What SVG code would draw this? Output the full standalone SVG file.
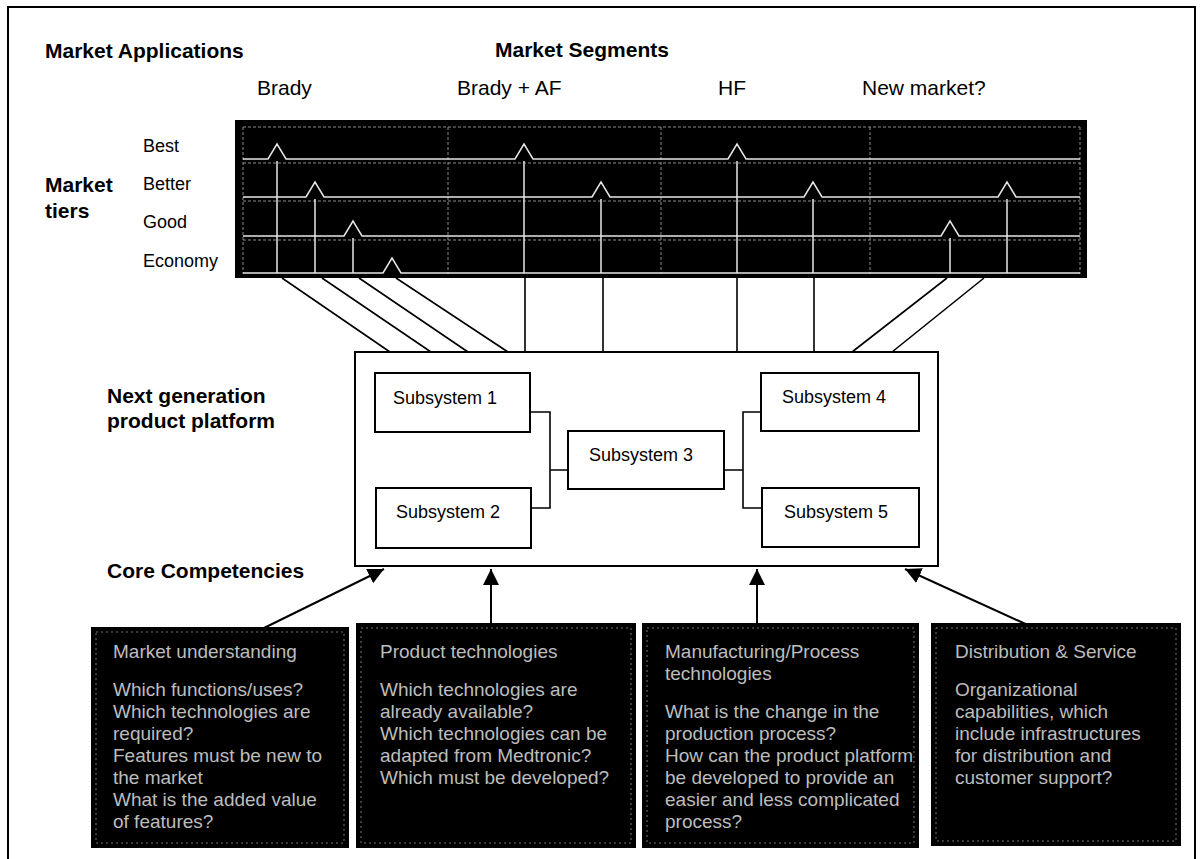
<svg xmlns="http://www.w3.org/2000/svg" width="1202" height="859" viewBox="0 0 1202 859">
  <style>
    text { font-family: "Liberation Sans", Arial, sans-serif; fill: #000; }
    .head { font-size: 21px; font-weight: bold; }
    .seg { font-size: 21px; }
    .tier { font-size: 18px; }
    .sub { font-size: 18px; }
    .frame { fill: none; stroke: #000; stroke-width: 2; }
    .box { fill: #fff; stroke: #000; stroke-width: 2; }
    .comp { fill: #000; stroke: #000; stroke-width: 2; }
    .compin { fill: none; stroke: #777; stroke-width: 1; stroke-dasharray: 2 3; }
    .comp-t { font-size: 19px; fill: #bdbdbd; }
    .sig { fill: none; stroke: #e6e6e6; stroke-width: 1.5; }
    .grid { fill: none; stroke: #8c8c8c; stroke-width: 1; stroke-dasharray: 3 2; }
    .link { fill: none; stroke: #000; stroke-width: 1.6; }
    .arrow { fill: none; stroke: #000; stroke-width: 2; marker-end: url(#head); }
  </style>
  <defs>
    <marker id="head" viewBox="0 0 10 10" refX="10" refY="5" markerWidth="8" markerHeight="8" markerUnits="strokeWidth" orient="auto">
      <path d="M0 0 L10 5 L0 10 Z" fill="#000"/>
    </marker>
  </defs>

  <rect width="1202" height="859" fill="#fff"/>
  <!-- page frame, open at the bottom -->
  <rect class="frame" x="8" y="7" width="1187" height="880"/>

  <!-- headings -->
  <g id="labels">
    <text class="head" x="45" y="58">Market Applications</text>
    <text class="head" x="495" y="57">Market Segments</text>
    <text class="seg" x="257" y="95">Brady</text>
    <text class="seg" x="457" y="95">Brady + AF</text>
    <text class="seg" x="718" y="95">HF</text>
    <text class="seg" x="862" y="95">New market?</text>
    <text class="head" x="45" y="192">Market</text>
    <text class="head" x="45" y="218">tiers</text>
    <text class="tier" x="143" y="152">Best</text>
    <text class="tier" x="143" y="190">Better</text>
    <text class="tier" x="143" y="228">Good</text>
    <text class="tier" x="143" y="267">Economy</text>
    <text class="head" x="107" y="403">Next generation</text>
    <text class="head" x="107" y="428">product platform</text>
    <text class="head" x="107" y="578">Core Competencies</text>
  </g>

  <!-- market tier / segment map -->
  <g id="segment-map">
    <rect x="235" y="120" width="852" height="158" fill="#000"/>
    <path class="grid" d="M243 127 H1080 M243 163 H1080 M243 201 H1080 M243 240 H1080"/>
    <path class="grid" d="M243 127 V274 M448 127 V274 M661 127 V274 M870 127 V274 M1080 127 V274"/>
    <!-- tier signal lines with peaks -->
    <path class="sig" d="M243 159 H268 L277 144 L286 159 H515 L524 144 L533 159 H728 L737 144 L746 159 H1080"/>
    <path class="sig" d="M243 197 H306 L315 182 L324 197 H592 L601 182 L610 197 H804 L813 182 L822 197 H998 L1007 182 L1016 197 H1080"/>
    <path class="sig" d="M243 236 H344 L353 221 L362 236 H941 L950 221 L959 236 H1080"/>
    <path class="sig" d="M243 273 H383 L392 258 L401 273 H1080"/>
    <!-- drops under each peak -->
    <path class="sig" d="M277 161 V273 M524 161 V273 M737 161 V273 M315 199 V273 M601 199 V273 M813 199 V273 M1007 199 V273 M353 238 V273 M950 238 V273"/>
  </g>

  <!-- product platform -->
  <g id="platform">
    <rect class="box" x="355" y="352" width="583" height="214"/>
  </g>

  <!-- connectors -->
  <g id="connectors">
    <path class="link" d="M282 278 L390 352 M322 278 L431 352 M359 278 L468 352 M396 278 L508 352"/>
    <path class="link" d="M525 278 V352 M603 278 V352 M737 278 V352 M814 278 V352"/>
    <path class="link" d="M947 278 L852 352 M984 278 L892 352"/>
    <path class="link" d="M530 412 H550 V508 H531 M550 470 H568"/>
    <path class="link" d="M724 470 H743 M761 412 H743 V508 H762"/>
    <path class="arrow" d="M264 628 L384 569"/>
    <path class="arrow" d="M491 624 V569"/>
    <path class="arrow" d="M757 624 V569"/>
    <path class="arrow" d="M1030 626 L905 569"/>
  </g>

  <g id="subsystem-1">
    <rect class="box" x="375" y="373" width="155" height="59"/>
    <text class="sub" x="393" y="404">Subsystem 1</text>
  </g>
  <g id="subsystem-2">
    <rect class="box" x="376" y="488" width="155" height="60"/>
    <text class="sub" x="396" y="518">Subsystem 2</text>
  </g>
  <g id="subsystem-3">
    <rect class="box" x="568" y="431" width="156" height="58"/>
    <text class="sub" x="589" y="461">Subsystem 3</text>
  </g>
  <g id="subsystem-4">
    <rect class="box" x="761" y="373" width="158" height="58"/>
    <text class="sub" x="782" y="403">Subsystem 4</text>
  </g>
  <g id="subsystem-5">
    <rect class="box" x="762" y="488" width="157" height="59"/>
    <text class="sub" x="784" y="518">Subsystem 5</text>
  </g>

  <!-- core competencies -->
  <g id="market-understanding">
    <rect class="comp" x="92" y="628" width="256" height="219"/>
    <rect class="compin" x="96" y="632" width="248" height="211"/>
    <text class="comp-t" x="113" y="658">Market understanding</text>
    <text class="comp-t" x="113" y="696">Which functions/uses?</text>
    <text class="comp-t" x="113" y="718">Which technologies are</text>
    <text class="comp-t" x="113" y="740">required?</text>
    <text class="comp-t" x="113" y="762">Features must be new to</text>
    <text class="comp-t" x="113" y="784">the market</text>
    <text class="comp-t" x="113" y="806">What is the added value</text>
    <text class="comp-t" x="113" y="828">of features?</text>
  </g>
  <g id="product-technologies">
    <rect class="comp" x="357" y="624" width="278" height="223"/>
    <rect class="compin" x="361" y="628" width="270" height="215"/>
    <text class="comp-t" x="380" y="658">Product technologies</text>
    <text class="comp-t" x="380" y="696">Which technologies are</text>
    <text class="comp-t" x="380" y="718">already available?</text>
    <text class="comp-t" x="380" y="740">Which technologies can be</text>
    <text class="comp-t" x="380" y="762">adapted from Medtronic?</text>
    <text class="comp-t" x="380" y="784">Which must be developed?</text>
  </g>
  <g id="process-technologies">
    <rect class="comp" x="643" y="624" width="275" height="223"/>
    <rect class="compin" x="647" y="628" width="267" height="215"/>
    <text class="comp-t" x="665" y="658">Manufacturing/Process</text>
    <text class="comp-t" x="665" y="680">technologies</text>
    <text class="comp-t" x="665" y="718">What is the change in the</text>
    <text class="comp-t" x="665" y="740">production process?</text>
    <text class="comp-t" x="665" y="762">How can the product platform</text>
    <text class="comp-t" x="665" y="784">be developed to provide an</text>
    <text class="comp-t" x="665" y="806">easier and less complicated</text>
    <text class="comp-t" x="665" y="828">process?</text>
  </g>
  <g id="distribution-service">
    <rect class="comp" x="932" y="624" width="248" height="221"/>
    <rect class="compin" x="936" y="628" width="240" height="213"/>
    <text class="comp-t" x="955" y="658">Distribution &amp; Service</text>
    <text class="comp-t" x="955" y="696">Organizational</text>
    <text class="comp-t" x="955" y="718">capabilities, which</text>
    <text class="comp-t" x="955" y="740">include infrastructures</text>
    <text class="comp-t" x="955" y="762">for distribution and</text>
    <text class="comp-t" x="955" y="784">customer support?</text>
  </g>
</svg>
